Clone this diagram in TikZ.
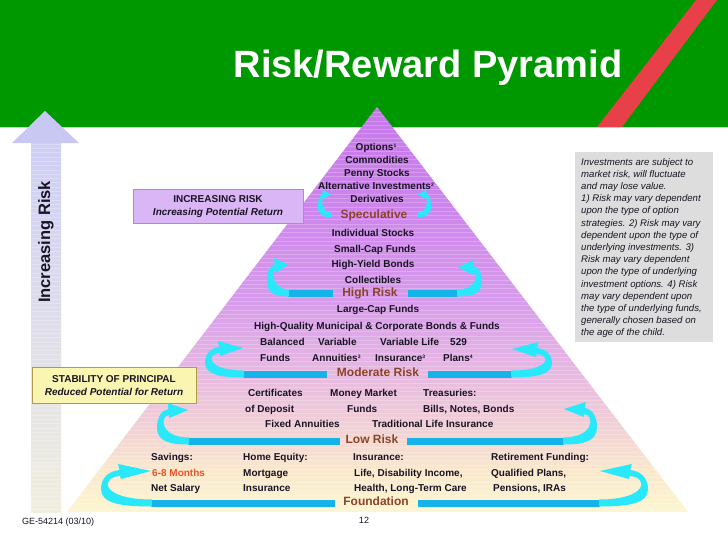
\documentclass[tikz,border=0pt]{standalone}
\usepackage{fontspec}
\setmainfont{Liberation Sans}
\definecolor{hdrgreen}{RGB}{0,152,0}
\definecolor{hdrline}{RGB}{175,225,175}
\definecolor{stripered}{RGB}{232,64,72}
\definecolor{barblue}{RGB}{22,178,234}
\definecolor{arrcyan}{RGB}{40,232,250}
\definecolor{txt}{RGB}{25,20,35}
\definecolor{brn}{RGB}{140,68,40}
\definecolor{orng}{RGB}{232,84,40}
\definecolor{notegray}{RGB}{221,221,221}
\definecolor{boxpurple}{RGB}{218,182,246}
\definecolor{boxblue}{RGB}{100,170,230}
\definecolor{boxyellow}{RGB}{250,246,178}
\definecolor{boxolive}{RGB}{176,156,70}
\definecolor{arhead}{RGB}{200,200,242}
\definecolor{arT}{RGB}{206,206,246}
\definecolor{arB}{RGB}{240,238,222}
\definecolor{pyA}{RGB}{252,246,208}
\definecolor{pyB}{RGB}{250,232,205}
\definecolor{pyC}{RGB}{240,205,215}
\definecolor{pyD}{RGB}{228,180,228}
\definecolor{pyE}{RGB}{215,155,235}
\definecolor{pyF}{RGB}{205,132,236}
\definecolor{pyG}{RGB}{198,120,234}
\pgfdeclareverticalshading{pyrshade}{100bp}{color(0bp)=(pyA); color(25bp)=(pyA); color(30.2bp)=(pyB); color(36.4bp)=(pyC); color(43.8bp)=(pyD); color(51.2bp)=(pyE); color(63.5bp)=(pyF); color(75bp)=(pyG); color(100bp)=(pyG)}
\newcommand{\fnm}[1]{\raisebox{0.55ex}{\fontsize{5}{5}\selectfont #1}}
\newcommand{\cvarrow}[5]{%
\begin{scope}[shift={(#1,#2)},xscale=#5]
\fill[arrcyan] (1,3.5) .. controls ({-0.6*#3},3.5) and ({-#3},0.5) .. ({-#3},{-0.45*#4})
 .. controls ({-#3},{-0.8*#4}) and ({-0.85*#3},{-#4-1}) .. ({-0.63*#3},{-#4-2})
 -- ({-0.66*#3},{-#4-8}) -- (0,{-#4-1}) -- ({-0.6*#3},{-#4+7}) -- ({-0.62*#3},{-#4+4})
 .. controls ({-1.2*#3+9},{-#4+5}) and ({-1.2*#3+9},-3.5) .. (1,-3.5) -- cycle;
\end{scope}}
\begin{document}
\begin{tikzpicture}[x=1pt,y=-1pt,
  item/.style={font=\fontsize{10}{12}\selectfont\bfseries, text=txt, inner sep=0pt, anchor=mid},
  itemw/.style={item, anchor=mid west},
  lvl/.style={font=\fontsize{12}{14}\selectfont\bfseries, text=brn, inner sep=0pt, anchor=mid},
  bar/.style={fill=barblue},
  boxtxt/.style={font=\fontsize{10}{13}\selectfont\bfseries, text=txt, align=center, inner sep=0pt}]
\useasboundingbox (0,0) rectangle (728,546);
\fill[white] (0,0) rectangle (728,546);
% header
\fill[hdrgreen] (0,0) rectangle (728,127);
\fill[stripered] (696,0) -- (717,0) -- (622,127) -- (597,127) -- cycle;
\draw[hdrline, line width=1pt] (0,127.5) -- (728,127.5);
\node[font=\fontsize{38}{40}\selectfont\bfseries, text=white, anchor=base, inner sep=0pt] (title) at (428,77) {Risk/Reward Pyramid};
% left arrow
\shade[top color=arT, bottom color=arB] (31,142) rectangle (61,512);
\fill[arhead] (45,111) -- (79,143) -- (12,143) -- cycle;
\begin{scope}
\clip (31,143) rectangle (61,512);
\foreach \i in {0,...,86} \draw[white, opacity=0.25, line width=0.6pt] (20,{144+4.3*\i}) -- (70,{144+4.3*\i});
\end{scope}
\node[font=\fontsize{16.5}{18}\selectfont\bfseries, text=txt, rotate=90, inner sep=0pt] (incrisk) at (46,242) {Increasing Risk};
% pyramid
\shade[shading=pyrshade] (377,107) -- (688,512) -- (67,512) -- cycle;
\begin{scope}
\clip (377,107) -- (688,512) -- (67,512) -- cycle;
\foreach \i in {0,...,94} \draw[white, opacity=0.22, line width=0.7pt] (60,{108+4.3*\i}) -- (700,{108+4.3*\i});
\end{scope}
% boxes
\node[draw=boxblue, fill=boxpurple, line width=1pt, minimum width=170, minimum height=34, inner sep=0pt] (incbox) at (218,206) {};
\node[boxtxt] (inctext) at (218,206.5) {INCREASING RISK\\\itshape Increasing Potential Return};
\node[draw=boxolive, fill=boxyellow, line width=1pt, minimum width=164, minimum height=36, inner sep=0pt] (stabbox) at (114,385) {};
\node[boxtxt] (stabtext) at (114,385.5) {STABILITY OF PRINCIPAL\\\itshape Reduced Potential for Return};
% speculative
\node[item] (s1) at (376,148) {Options\fnm{1}};
\node[item] (s2) at (377,161) {Commodities};
\node[item] (s3) at (377,174) {Penny Stocks};
\node[item] (s4) at (376,187) {Alternative Investments\fnm{2}};
\node[item] (s5) at (377,200) {Derivatives};
\node[lvl] (spec) at (374,216) {Speculative};
\begin{scope}[shift={(331,215)}, scale=0.65]
\cvarrow{0}{0}{20}{31}{1}
\end{scope}
\begin{scope}[shift={(418,215)}, scale=0.65]
\cvarrow{0}{0}{20}{31}{-1}
\end{scope}
% high risk
\node[item] (h1) at (373,234) {Individual Stocks};
\node[item] (h2) at (375,249.5) {Small-Cap Funds};
\node[item] (h3) at (373,265) {High-Yield Bonds};
\node[item] (h4) at (373,281) {Collectibles};
\node[lvl] (high) at (370,294) {High Risk};
\fill[bar] (288,289.5) rectangle (333,296.5);
\fill[bar] (408,289.5) rectangle (458,296.5);
\cvarrow{288}{293}{21}{27}{1}
\cvarrow{458}{293}{24}{25}{-1}
% moderate
\node[item] (m1) at (378,310) {Large-Cap Funds};
\node[item] (m2) at (377,327) {High-Quality Municipal \& Corporate Bonds \& Funds};
\node[itemw] (m3) at (260,343) {Balanced};
\node[itemw] (m4) at (318,343) {Variable};
\node[itemw] (m5) at (380,343) {Variable Life};
\node[itemw] (m6) at (450,343) {529};
\node[itemw] (m7) at (260,359) {Funds};
\node[itemw] (m8) at (312,359) {Annuities\fnm{3}};
\node[itemw] (m9) at (375,359) {Insurance\fnm{3}};
\node[itemw] (m10) at (443,359) {Plans\fnm{4}};
\node[lvl] (mod) at (378,374) {Moderate Risk};
\fill[bar] (243,370.5) rectangle (327,377.5);
\fill[bar] (428,370.5) rectangle (512,377.5);
\cvarrow{243}{374}{38}{25}{1}
\cvarrow{512}{374}{40}{24}{-1}
% low
\node[itemw] (l1) at (248,393.5) {Certificates};
\node[itemw] (l2) at (330,393.5) {Money Market};
\node[itemw] (l3) at (423,393.5) {Treasuries:};
\node[itemw] (l4) at (245,410) {of Deposit};
\node[itemw] (l5) at (347,410) {Funds};
\node[itemw] (l6) at (423,410) {Bills, Notes, Bonds};
\node[itemw] (l7) at (265,424.5) {Fixed Annuities};
\node[itemw] (l8) at (372,424.5) {Traditional Life Insurance};
\node[lvl] (low) at (372,441) {Low Risk};
\fill[bar] (188,437.5) rectangle (340,444.5);
\fill[bar] (407,437.5) rectangle (564,444.5);
\cvarrow{188}{441}{31}{30}{1}
\cvarrow{564}{441}{33}{31}{-1}
% foundation
\node[itemw] (f1) at (151,458) {Savings:};
\node[itemw, text=orng] (f2) at (152,473.5) {6-8 Months};
\node[itemw] (f3) at (151,489) {Net Salary};
\node[itemw] (f4) at (243,458) {Home Equity:};
\node[itemw] (f5) at (243,473.5) {Mortgage};
\node[itemw] (f6) at (243,489) {Insurance};
\node[itemw] (f7) at (353,458) {Insurance:};
\node[itemw] (f8) at (354,473.5) {Life, Disability Income,};
\node[itemw] (f9) at (354,489) {Health, Long-Term Care};
\node[itemw] (f10) at (491,458) {Retirement Funding:};
\node[itemw] (f11) at (491,473.5) {Qualified Plans,};
\node[itemw] (f12) at (493,489) {Pensions, IRAs};
\node[lvl] (found) at (376,503) {Foundation};
\fill[bar] (151,499.5) rectangle (335,506.5);
\fill[bar] (418,499.5) rectangle (600,506.5);
\cvarrow{151}{503}{50}{31}{1}
\cvarrow{600}{503}{48}{31}{-1}
% note box
\fill[notegray] (575,152) rectangle (713,342);
\node[anchor=north west, inner sep=0pt, align=left, text=txt, font=\fontsize{9.6}{12.2}\selectfont\itshape] (note) at (581,158) {Investments are subject to\\market risk, will fluctuate\\and may lose value.\\1) Risk may vary dependent\\upon the type of option\\strategies. 2) Risk may vary\\dependent upon the type of\\underlying investments. 3)\\Risk may vary dependent\\upon the type of underlying\\investment options. 4) Risk\\may vary dependent upon\\the type of underlying funds,\\generally chosen based on\\the age of the child.};
% footer
\node[anchor=mid west, inner sep=0pt, font=\fontsize{9}{11}\selectfont, text=txt] (code) at (22,522) {GE-54214 (03/10)};
\node[anchor=mid, inner sep=0pt, font=\fontsize{9}{11}\selectfont, text=txt] (page) at (364,521) {12};
\end{tikzpicture}
\end{document}
